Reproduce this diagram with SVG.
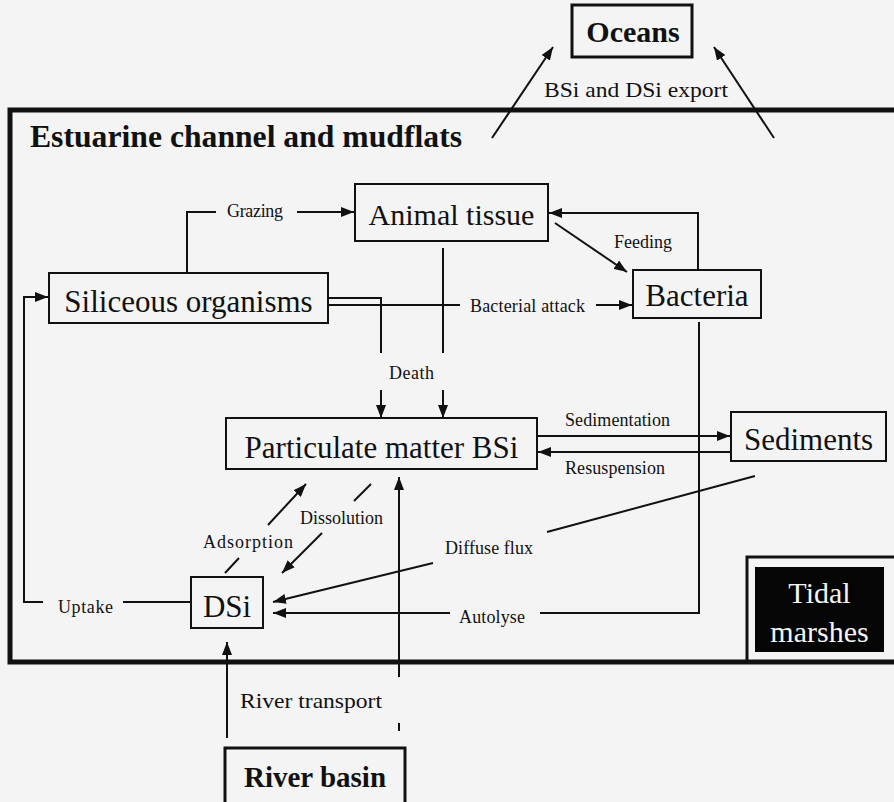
<svg xmlns="http://www.w3.org/2000/svg" width="894" height="802" viewBox="0 0 894 802">
<defs>
<marker id="ah" viewBox="0 0 13 10" refX="13" refY="5" markerWidth="13" markerHeight="10" orient="auto" markerUnits="userSpaceOnUse"><path d="M0,0 L13,5 L0,10 z" fill="#111"/></marker>
<style>
.t{font-family:"Liberation Serif","Times New Roman",serif;fill:#111}
.big{font-size:31px}
.lbl{font-size:18px}
.bold{font-weight:bold}
.box{fill:none;stroke:#111;stroke-width:2}
.c{fill:none;stroke:#111;stroke-width:2}
.a{marker-end:url(#ah)}
</style>
</defs>
<rect width="894" height="802" fill="#f4f4f4"/>
<g id="frame">
<rect x="10" y="110" width="900" height="552" fill="none" stroke="#111" stroke-width="5"/>
<text class="t bold" x="30" y="147" font-size="31" textLength="432" lengthAdjust="spacingAndGlyphs">Estuarine channel and mudflats</text>
</g>
<g id="tidal-marshes">
<path d="M747,662 V557 H900" fill="none" stroke="#111" stroke-width="3"/>
<rect x="755" y="567" width="129" height="85" fill="#050505"/>
<text class="t" x="819.5" y="603" font-size="30" text-anchor="middle" style="fill:#f4f4f4">Tidal</text>
<text class="t" x="819.5" y="642" font-size="30" text-anchor="middle" style="fill:#f4f4f4">marshes</text>
</g>
<g id="oceans">
<rect x="572" y="5" width="120" height="52" fill="none" stroke="#111" stroke-width="3"/>
<text class="t bold" x="633" y="42" font-size="30" text-anchor="middle">Oceans</text>
</g>
<g id="animal-tissue">
<rect class="box" x="355" y="184" width="193" height="57"/>
<text class="t" x="451.5" y="225" font-size="30" text-anchor="middle">Animal tissue</text>
</g>
<g id="siliceous-organisms">
<rect class="box" x="49" y="273" width="279" height="50"/>
<text class="t big" x="188.5" y="312" text-anchor="middle">Siliceous organisms</text>
</g>
<g id="bacteria">
<rect class="box" x="633" y="270" width="128" height="48"/>
<text class="t big" x="697" y="306" text-anchor="middle">Bacteria</text>
</g>
<g id="particulate-matter">
<rect class="box" x="226" y="418" width="311" height="51"/>
<text class="t big" x="381.5" y="458" text-anchor="middle">Particulate matter BSi</text>
</g>
<g id="sediments">
<rect class="box" x="731" y="412" width="155" height="49"/>
<text class="t big" x="808.5" y="450" text-anchor="middle">Sediments</text>
</g>
<g id="dsi">
<rect class="box" x="191" y="577" width="72" height="51"/>
<text class="t big" x="227" y="617" text-anchor="middle">DSi</text>
</g>
<g id="river-basin">
<rect x="225" y="748" width="180" height="70" fill="none" stroke="#111" stroke-width="3"/>
<text class="t bold" x="315" y="787" font-size="29" text-anchor="middle">River basin</text>
</g>
<g id="connectors">
<line class="c a" x1="492" y1="138" x2="553" y2="47"/>
<line class="c a" x1="774" y1="138" x2="714" y2="47"/>
<polyline class="c" points="187,273 187,212 216,212"/>
<line class="c a" x1="297" y1="212" x2="354" y2="212"/>
<line class="c a" x1="555" y1="223" x2="627" y2="272"/>
<polyline class="c a" points="698,270 698,213 549,213"/>
<polyline class="c" points="328,298 381,298 381,353"/>
<line class="c a" x1="381" y1="390" x2="381" y2="418"/>
<line class="c" x1="443" y1="248" x2="443" y2="353"/>
<line class="c a" x1="443" y1="390" x2="443" y2="418"/>
<line class="c" x1="328" y1="305" x2="460" y2="305"/>
<line class="c a" x1="596" y1="305" x2="632" y2="305"/>
<line class="c a" x1="537" y1="436" x2="730" y2="436"/>
<line class="c a" x1="731" y1="452" x2="538" y2="452"/>
<line class="c" x1="755" y1="476" x2="547" y2="532"/>
<line class="c a" x1="433" y1="563" x2="273" y2="602"/>
<polyline class="c" points="699,322 699,613 540,613"/>
<line class="c a" x1="450" y1="613" x2="273" y2="613"/>
<line class="c" x1="191" y1="602" x2="123" y2="602"/>
<polyline class="c a" points="43,602 24,602 24,297 48,297"/>
<line class="c" x1="225" y1="573" x2="239" y2="558"/>
<line class="c a" x1="268" y1="525" x2="306" y2="484"/>
<line class="c" x1="371" y1="484" x2="354" y2="501"/>
<line class="c a" x1="322" y1="533" x2="282" y2="573"/>
<line class="c a" x1="227" y1="738" x2="227" y2="642"/>
<line class="c a" x1="399" y1="677" x2="399" y2="477"/>
<line class="c" x1="399" y1="723" x2="399" y2="731"/>
</g>
<g id="labels">
<text class="t" x="544" y="97" font-size="22" textLength="184" lengthAdjust="spacingAndGlyphs">BSi and DSi export</text>
<text class="t lbl" x="227" y="217" textLength="56">Grazing</text>
<text class="t lbl" x="614" y="248" textLength="58">Feeding</text>
<text class="t lbl" x="470" y="312" textLength="115">Bacterial attack</text>
<text class="t lbl" x="389" y="379" textLength="45">Death</text>
<text class="t lbl" x="565" y="426" textLength="105">Sedimentation</text>
<text class="t lbl" x="565" y="474" textLength="100">Resuspension</text>
<text class="t lbl" x="445" y="554" textLength="88">Diffuse flux</text>
<text class="t lbl" x="459" y="623" textLength="66">Autolyse</text>
<text class="t lbl" x="58" y="613" textLength="55">Uptake</text>
<text class="t lbl" x="203" y="548" textLength="90">Adsorption</text>
<text class="t lbl" x="300" y="524" textLength="83">Dissolution</text>
<text class="t" x="240" y="708" font-size="22" textLength="142" lengthAdjust="spacingAndGlyphs">River transport</text>
</g>
</svg>
